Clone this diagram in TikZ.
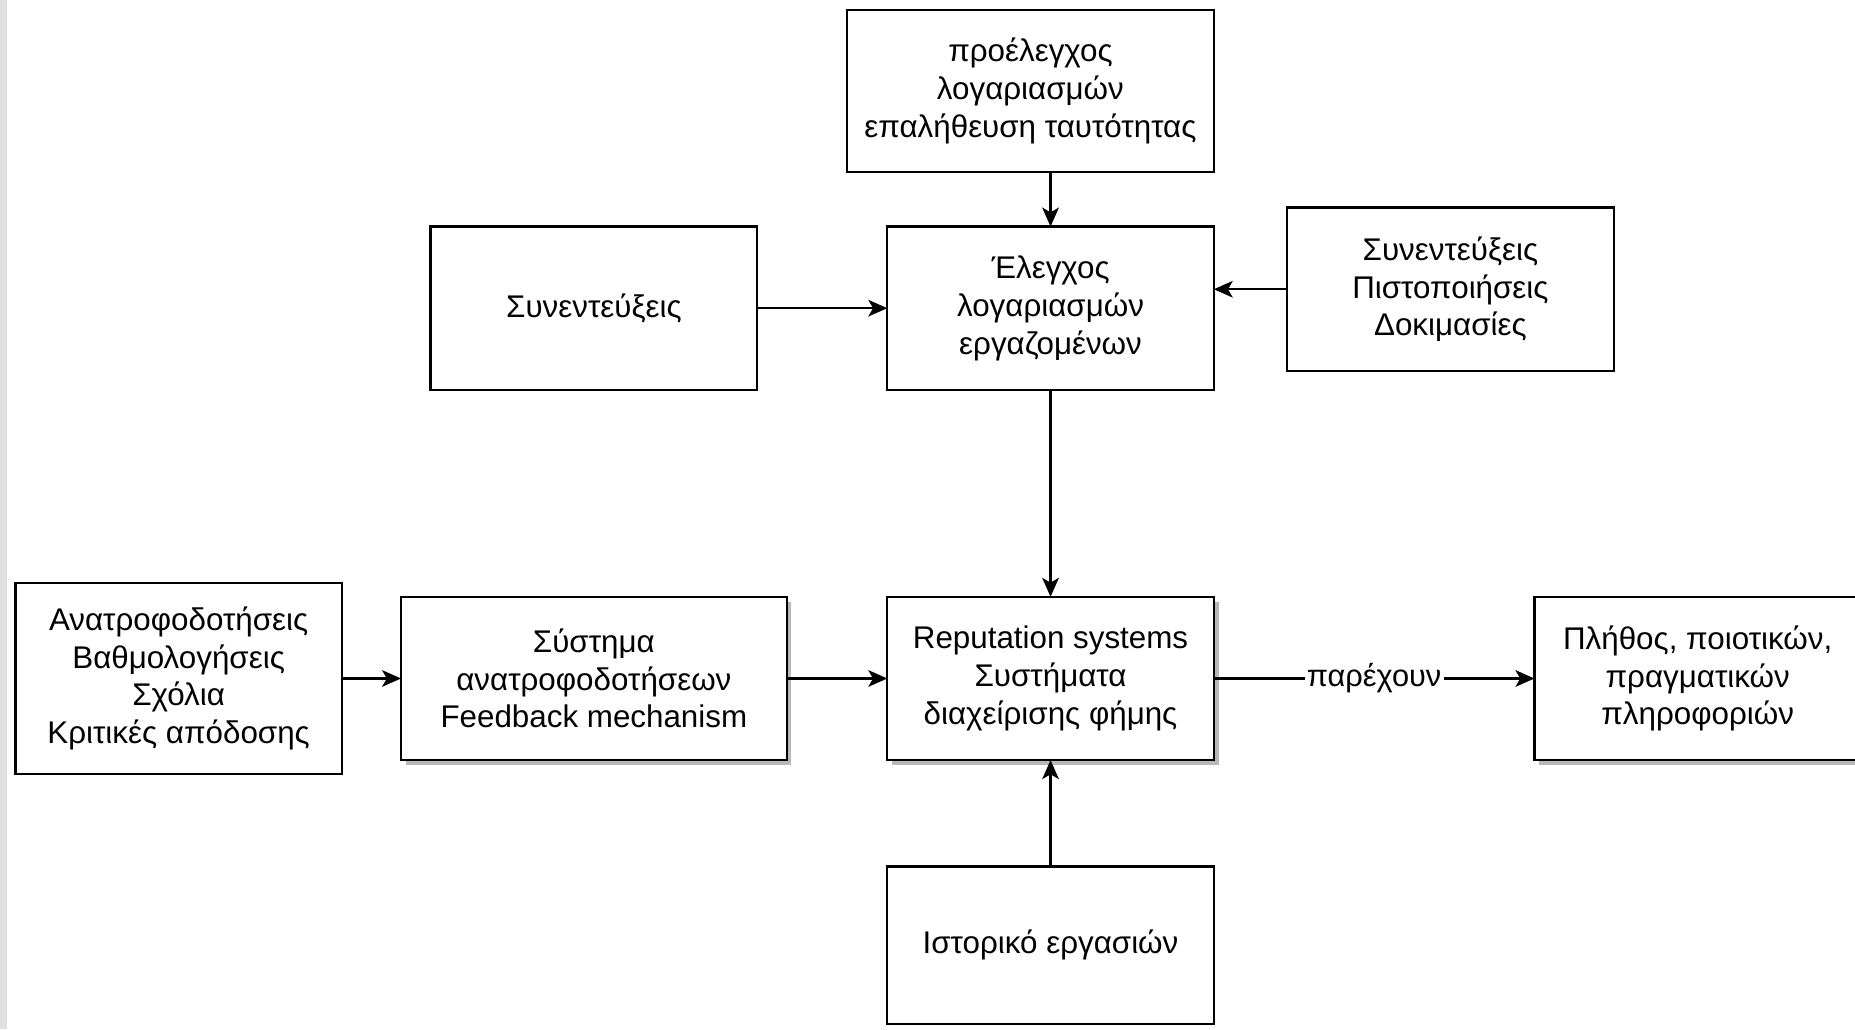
\documentclass[tikz,border=0pt]{standalone}
\usepackage{fontspec}
\setmainfont{Liberation Sans}
\usetikzlibrary{positioning}
\usetikzlibrary{shadows,arrows.meta}
\tikzset{
    block/.style = {draw, rectangle, line width=2pt, fill=white,
                    minimum width=276pt, minimum height=138pt,
                    inner sep=0pt, outer sep=0pt, align=center,
                    font=\fontsize{26.5}{32}\selectfont
    },
    shaded block/.style = {block, drop shadow={shadow xshift=4pt,
                           shadow yshift=-4pt, fill=black!28, opacity=1}
    },
    flow arrow/.style = {line width=2pt,
                         -{Stealth[length=16pt, width=14pt, inset=4pt]}
    },
}
\begin{document}
\begin{tikzpicture}[x=1pt, y=-1pt]
    \useasboundingbox (0,0) rectangle (1568,870);
    \fill[black!12] (0,0) rectangle (6,870);
    \node (rep) [shaded block] at (888,573.5)
              {Reputation systems\\ Συστήματα\\ διαχείρισης φήμης};
    \node (check) [block, above=175pt of rep]
              {Έλεγχος\\ λογαριασμών\\ εργαζομένων};
    \node (pre) [block, minimum width=310pt, minimum height=137pt,
                 above=46pt of check.north east, anchor=south east]
              {προέλεγχος\\ λογαριασμών\\ επαλήθευση ταυτότητας};
    \node (interview) [block, left=110pt of check] {Συνεντεύξεις};
    \node (tests) [block, right=62pt of check, yshift=16pt]
              {Συνεντεύξεις\\ Πιστοποιήσεις\\ Δοκιμασίες};
    \node (sys) [shaded block, minimum width=326pt, left=85pt of rep]
              {Σύστημα\\ ανατροφοδοτήσεων\\ Feedback mechanism};
    \node (inputs) [block, minimum height=161pt, left=50pt of sys]
              {Ανατροφοδοτήσεις\\ Βαθμολογήσεις\\ Σχόλια\\ Κριτικές απόδοσης};
    \node (out) [shaded block, right=271pt of rep]
              {Πλήθος, ποιοτικών,\\ πραγματικών\\ πληροφοριών};
    \node (hist) [block, minimum height=133pt, below=90pt of rep]
              {Ιστορικό εργασιών};

    \draw[flow arrow] (pre.south -| check) -- (check);
    \draw[flow arrow] (interview) -- (check);
    \draw[flow arrow] (tests) -- (tests -| check.east);
    \draw[flow arrow] (check) -- (rep);
    \draw[flow arrow] (inputs) -- (sys);
    \draw[flow arrow] (sys) -- (rep);
    \draw[flow arrow] (rep) -- node[fill=white, inner sep=2pt,
                      font=\fontsize{26}{30}\selectfont] {παρέχουν} (out);
    \draw[flow arrow] (hist) -- (rep);
\end{tikzpicture}
\end{document}
